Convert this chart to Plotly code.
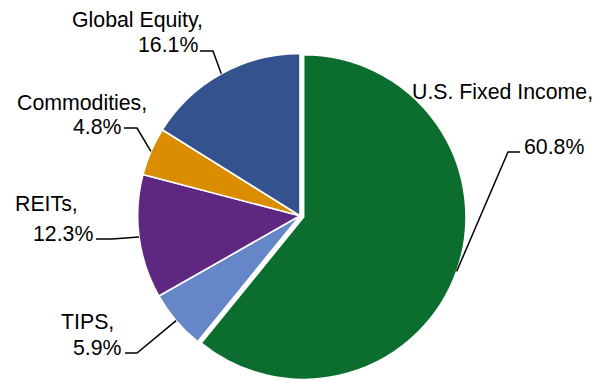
import math
import plotly.graph_objects as go

# Portfolio allocation
labels = ["U.S. Fixed Income", "TIPS", "REITs", "Commodities", "Global Equity"]
values = [60.8, 5.9, 12.3, 4.8, 16.1]
colors = ["#0B6E2E", "#6586C7", "#5E2882", "#DA8D00", "#34538E"]
pulls = [0.024, 0, 0, 0, 0]

W, H = 600, 382
DOM_X = [0.0, 1.0]
DOM_Y = [0.0, (H - 49.5) / H]

# label layout: (line1 left x, line1 mid y, line2 left x, line2 mid y,
#                elbow-start, elbow-corner) in pixels
label_layout = {
    "U.S. Fixed Income": dict(l1=(410, 92), l2=(522, 147), h0=(520, 152), h1=(508, 152)),
    "TIPS": dict(l1=(59, 322), l2=(71, 348), h0=(125, 353), h1=(137, 353)),
    "REITs": dict(l1=(13, 204), l2=(31, 234), h0=(96, 239), h1=(112, 239)),
    "Commodities": dict(l1=(15, 103), l2=(71, 127), h0=(124, 128), h1=(137, 128)),
    "Global Equity": dict(l1=(70, 20), l2=(136, 45), h0=(200, 51), h1=(213, 51)),
}


def px(x):
    return x / W


def py(y):
    return 1 - y / H


# pie geometry as plotly lays it out
box_w = W * (DOM_X[1] - DOM_X[0])
box_h = H * (DOM_Y[1] - DOM_Y[0])
radius = min(box_w, box_h) / (2 + 2 * max(pulls))
cx = W * (DOM_X[0] + DOM_X[1]) / 2
cy = H * (1 - (DOM_Y[0] + DOM_Y[1]) / 2)

total = sum(values)

fig = go.Figure(
    go.Pie(
        labels=labels,
        values=values,
        sort=False,
        direction="clockwise",
        rotation=0,
        pull=pulls,
        marker=dict(colors=colors, line=dict(color="white", width=1.6)),
        textinfo="none",
        hoverinfo="label+percent",
        showlegend=False,
        domain=dict(x=DOM_X, y=DOM_Y),
    )
)

annotations = []
shapes = []
font = dict(family="Liberation Sans, Arial, sans-serif", size=21.3, color="#000000")
cum = 0.0
for name, val, pull in zip(labels, values, pulls):
    mid = (cum + val / 2) / total * 2 * math.pi
    cum += val
    dist = radius * (1 + pull)
    ex = cx + dist * math.sin(mid)
    ey = cy - dist * math.cos(mid)
    lay = label_layout[name]
    annotations.append(dict(
        x=px(lay["l1"][0]), y=py(lay["l1"][1]), xref="paper", yref="paper",
        xanchor="left", yanchor="middle", text=f"{name},", showarrow=False, font=font,
    ))
    annotations.append(dict(
        x=px(lay["l2"][0]), y=py(lay["l2"][1]), xref="paper", yref="paper",
        xanchor="left", yanchor="middle", text=f"{val:.1f}%", showarrow=False, font=font,
    ))
    pts = [lay["h0"], lay["h1"], (ex, ey)]
    path = "M " + " L ".join(f"{px(x):.5f},{py(y):.5f}" for x, y in pts)
    shapes.append(dict(
        type="path", xref="paper", yref="paper", path=path,
        line=dict(color="#000000", width=1.5),
    ))

fig.update_layout(
    width=W,
    height=H,
    margin=dict(l=0, r=0, t=0, b=0),
    paper_bgcolor="white",
    plot_bgcolor="white",
    annotations=annotations,
    shapes=shapes,
)

fig.write_html("out.html")
